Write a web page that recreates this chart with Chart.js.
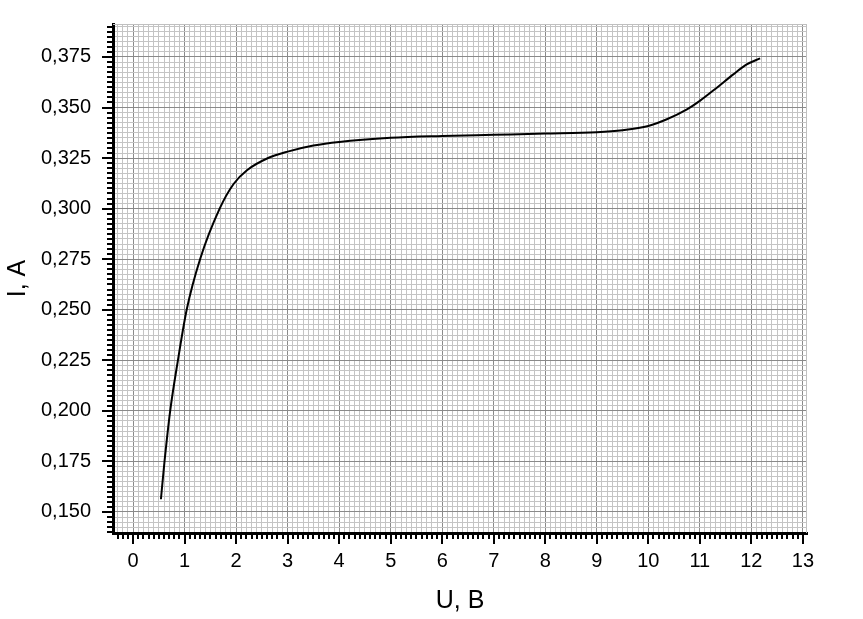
<!DOCTYPE html>
<html>
<head>
<meta charset="utf-8">
<script src="https://cdn.jsdelivr.net/npm/chart.js@4.4.1/dist/chart.umd.min.js"></script>
<style>
  html, body { margin: 0; padding: 0; background: #fff; }
  canvas { display: block; }
</style>
</head>
<body>
<canvas id="ivChart" width="863" height="619"></canvas>
<script>
// Data
const voltage = [0.54, 0.61, 0.72, 0.87, 1.04, 1.30, 1.68, 1.95, 2.21, 2.60, 3.00, 3.50, 4.0, 5.0, 6.0, 7.0, 8.0, 9.0, 9.5, 10.0, 10.36, 10.75, 11.0, 11.33, 11.65, 11.91, 12.17];
const current = [0.1563, 0.175, 0.200, 0.225, 0.250, 0.275, 0.300, 0.3122, 0.3190, 0.3248, 0.3282, 0.3312, 0.3330, 0.3350, 0.3359, 0.3365, 0.3371, 0.3378, 0.3388, 0.3409, 0.3442, 0.3491, 0.3533, 0.3598, 0.3664, 0.3713, 0.3743];

// Axis ranges and steps
const xRange = [-0.39, 13.08];
const yRange = [0.1396, 0.3913];
const xMinorStep = 0.1;
const yMinorStep = 0.0025;

const FONT = "'Liberation Sans', Arial, sans-serif";

const isMajorX = v => Math.abs(v - Math.round(v)) < 1e-6;
const isMajorY = v => Math.abs(v * 40 - Math.round(v * 40)) < 1e-6;

// tick marks of two lengths + light frame on top/right
const tickMarks = {
  id: 'tickMarks',
  beforeDatasetsDraw(chart) {
    const {ctx, chartArea: a} = chart;
    ctx.save();
    ctx.strokeStyle = '#c0c0c0';
    ctx.lineWidth = 1;
    ctx.beginPath();
    ctx.moveTo(a.left, a.top + 0.5);
    ctx.lineTo(a.right, a.top + 0.5);
    ctx.moveTo(a.right - 0.5, a.top);
    ctx.lineTo(a.right - 0.5, a.bottom);
    ctx.stroke();
    ctx.restore();
  },
  afterDraw(chart) {
    const {ctx, chartArea: a, scales: {x, y}} = chart;
    ctx.save();
    ctx.strokeStyle = '#000';
    ctx.lineWidth = 2;
    ctx.beginPath();
    x.ticks.forEach(t => {
      const px = Math.round(x.getPixelForValue(t.value));
      const len = isMajorX(t.value) ? 11 : 6;
      ctx.moveTo(px, a.bottom);
      ctx.lineTo(px, a.bottom + len);
    });
    y.ticks.forEach(t => {
      const py = Math.round(y.getPixelForValue(t.value));
      const len = isMajorY(t.value) ? 11 : 6;
      ctx.moveTo(a.left, py);
      ctx.lineTo(a.left - len, py);
    });
    ctx.stroke();
    ctx.restore();
  }
};

const ctx = document.getElementById('ivChart').getContext('2d');
new Chart(ctx, {
  type: 'line',
  data: {
    datasets: [{
      data: voltage.map((v, i) => ({x: v, y: current[i]})),
      borderColor: '#000',
      borderWidth: 2,
      pointRadius: 0,
      fill: false,
      cubicInterpolationMode: 'monotone'
    }]
  },
  options: {
    responsive: false,
    animation: false,
    devicePixelRatio: 1,
    layout: { padding: { top: 23, right: 56, left: 0, bottom: 0 } },
    plugins: { legend: { display: false }, tooltip: { enabled: false } },
    scales: {
      x: {
        type: 'linear',
        min: xRange[0],
        max: xRange[1],
        afterFit: s => { s.height = 86; },
        border: { display: true, color: '#000', width: 3 },
        grid: {
          color: c => isMajorX(c.tick.value) ? '#8a8a8a' : '#c4c4c4',
          lineWidth: 1,
          tickLength: 10,
          tickColor: 'rgba(0,0,0,0)'
        },
        ticks: {
          stepSize: xMinorStep,
          includeBounds: false,
          autoSkip: false,
          maxTicksLimit: 1000,
          maxRotation: 0,
          minRotation: 0,
          padding: 6,
          color: '#000',
          font: { family: FONT, size: 20 },
          callback: v => isMajorX(v) ? String(Math.round(v)) : ''
        },
        title: {
          display: true,
          text: 'U, B',
          color: '#000',
          font: { family: FONT, size: 25 },
          padding: { top: 0, bottom: 3 }
        }
      },
      y: {
        type: 'linear',
        min: yRange[0],
        max: yRange[1],
        afterFit: s => { s.width = 113; },
        border: { display: true, color: '#000', width: 3 },
        grid: {
          color: c => isMajorY(c.tick.value) ? '#8a8a8a' : '#c4c4c4',
          lineWidth: 1,
          tickLength: 10,
          tickColor: 'rgba(0,0,0,0)'
        },
        ticks: {
          stepSize: yMinorStep,
          includeBounds: false,
          autoSkip: false,
          maxTicksLimit: 1000,
          padding: 12,
          color: '#000',
          font: { family: FONT, size: 20 },
          callback: v => isMajorY(v) ? v.toFixed(3).replace('.', ',') : ''
        },
        title: {
          display: true,
          text: 'I, A',
          color: '#000',
          font: { family: FONT, size: 25 },
          padding: { top: 3, bottom: 0 }
        }
      }
    }
  },
  plugins: [tickMarks]
});
</script>
</body>
</html>
